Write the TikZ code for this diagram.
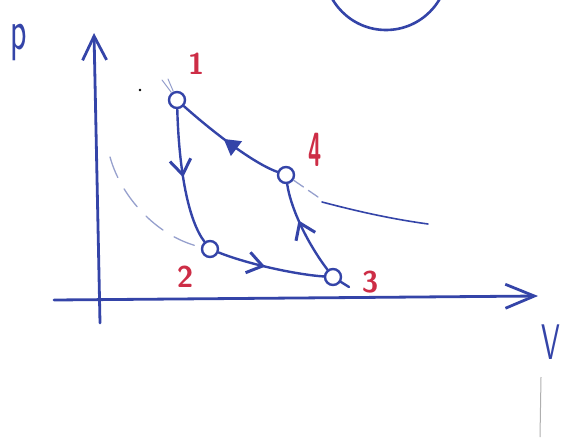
\documentclass[tikz,border=0pt]{standalone}
\usetikzlibrary{arrows.meta,decorations.markings}
\definecolor{ink}{RGB}{52,68,168}
\definecolor{faint}{RGB}{150,160,205}
\definecolor{redink}{RGB}{205,45,70}
\definecolor{pencil}{RGB}{175,175,175}
\begin{document}
\begin{tikzpicture}[x=1pt,y=-1pt,
  inkline/.style={draw=ink, line width=2.4pt, line cap=round, line join=round},
  axisline/.style={draw=ink, line width=2.8pt, line cap=round, line join=round},
  faintline/.style={draw=faint, line width=1.3pt, line cap=round},
  statept/.style={circle, draw=ink, line width=2.4pt, minimum size=16pt, inner sep=0pt},
  lbl/.style={text=redink, font=\sffamily\bfseries\fontsize{30}{30}\selectfont, inner sep=0pt},
  midarrow/.style 2 args={postaction={decorate}, decoration={markings, mark=at position #1 with {\arrow{#2}}}},
]
\useasboundingbox (0,0) rectangle (564,439);

% circle at top, partly off the page
\begin{scope}
  \clip (0,0) rectangle (564,439);
  \draw[inkline, line width=2.6pt] (386,-32) circle (62);
\end{scope}

% axes
\coordinate (ybot) at (100,323);
\coordinate (ytop) at (94,33);
\coordinate (xleft) at (54,300);
\coordinate (xright) at (538,296);
\draw[axisline, -{Straight Barb[length=24pt,width=24pt]}] (ybot) -- (ytop);
\draw[axisline, -{Straight Barb[length=29pt,width=24pt]}] (xleft) -- (xright);

% axis labels
\node[text=ink, font=\sffamily\fontsize{34}{34}\selectfont, inner sep=0pt] (plabel) at (19,42) {\scalebox{1}[1.7]{p}};
\node[text=ink, font=\sffamily\fontsize{50}{50}\selectfont, inner sep=0pt] (vlabel) at (551,342) {\scalebox{0.6}[1]{V}};

% states
\node[statept] (s1) at (177,100) {};
\node[statept] (s2) at (210,249) {};
\node[statept] (s3) at (333,277) {};
\node[statept] (s4) at (286,175) {};

% state labels
\node[lbl] (l1) at (196,64) {1};
\node[lbl] (l4) at (315,150) {\scalebox{0.8}[1.6]{4}};
\node[lbl] (l2) at (185,277) {2};
\node[lbl] (l3) at (370,282) {3};

% cycle
\draw[inkline, midarrow={0.5}{Straight Barb[length=15pt,width=21pt,line width=3pt]}]
  (s1) .. controls (179,170) and (188,220) .. (s2);
\draw[inkline, midarrow={0.45}{Straight Barb[length=15pt,width=21pt,line width=3pt]}]
  (s2) .. controls (250,265) and (300,275) .. (s3);
\draw[inkline, midarrow={0.6}{Straight Barb[length=15pt,width=21pt,line width=3pt]}]
  (s3) .. controls (305,240) and (290,205) .. (s4);
\draw[inkline, midarrow={0.55}{Triangle[length=16pt,width=18pt]}]
  (s4) .. controls (250,162) and (205,125) .. (s1);
\coordinate (tail3) at (349,287);
\draw[inkline] (s3) -- (tail3);

% isotherm through 1 and 4
\coordinate (iso1a) at (162,80);
\coordinate (iso1b) at (168,79);
\draw[faintline, line width=1pt] (iso1a) -- (s1);
\draw[faintline, line width=1pt] (iso1b) -- (s1);
\coordinate (iso4a) at (318,197);
\coordinate (iso4b) at (322,202);
\coordinate (iso4c) at (428,224);
\draw[faintline, dash pattern=on 12pt off 6pt] (s4) -- (iso4a);
\draw[draw=ink, line width=1.6pt, line cap=round] (iso4b) .. controls (360,212) and (392,219) .. (iso4c);

% isotherm through 2 (dashed)
\coordinate (iso2a) at (110,157);
\draw[faintline, dash pattern=on 22pt off 13pt] (iso2a) .. controls (122,200) and (160,238) .. (s2);

% small marks
\fill[black] (140,90) circle (1.4pt);
\coordinate (pa) at (541,377);
\coordinate (pb) at (540,437);
\draw[draw=pencil, line width=1pt] (pa) -- (pb);
\end{tikzpicture}
\end{document}
